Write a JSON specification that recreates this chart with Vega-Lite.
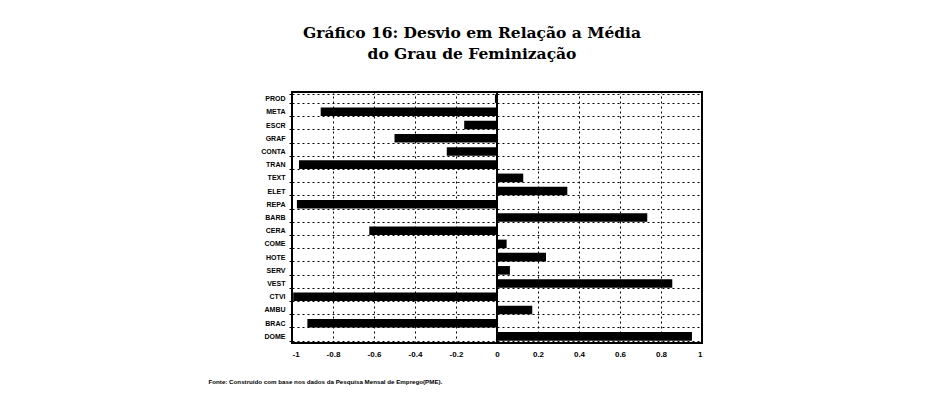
{
  "$schema": "https://vega.github.io/schema/vega-lite/v6.json",
  "width": 410,
  "height": 251,
  "autosize": {"type": "none"},
  "padding": {"left": 292, "top": 92, "right": 228, "bottom": 71},
  "background": "white",
  "title": {
    "text": ["Gráfico 16: Desvio em Relação a Média", "do Grau de Feminização"],
    "font": "DejaVu Serif",
    "fontSize": 15.5,
    "fontWeight": "bold",
    "color": "black",
    "anchor": "middle",
    "lineHeight": 21,
    "offset": 26,
    "dx": -25
  },
  "config": {
    "view": {"stroke": "black", "strokeWidth": 2},
    "axis": {
      "labelFont": "Liberation Sans",
      "labelFontWeight": "bold",
      "labelColor": "black",
      "gridColor": "black",
      "gridDash": [2, 3],
      "gridOpacity": 1,
      "gridWidth": 1,
      "domain": false
    }
  },
  "data": {
    "values": [
      {"setor": "PROD", "desvio": -0.01},
      {"setor": "META", "desvio": -0.86},
      {"setor": "ESCR", "desvio": -0.16},
      {"setor": "GRAF", "desvio": -0.50},
      {"setor": "CONTA", "desvio": -0.245},
      {"setor": "TRAN", "desvio": -0.966},
      {"setor": "TEXT", "desvio": 0.128},
      {"setor": "ELET", "desvio": 0.343},
      {"setor": "REPA", "desvio": -0.976},
      {"setor": "BARB", "desvio": 0.733},
      {"setor": "CERA", "desvio": -0.623},
      {"setor": "COME", "desvio": 0.047},
      {"setor": "HOTE", "desvio": 0.239},
      {"setor": "SERV", "desvio": 0.063},
      {"setor": "VEST", "desvio": 0.855},
      {"setor": "CTVI", "desvio": -0.994},
      {"setor": "AMBU", "desvio": 0.172},
      {"setor": "BRAC", "desvio": -0.925},
      {"setor": "DOME", "desvio": 0.951}
    ]
  },
  "layer": [
    {
      "mark": {"type": "bar", "color": "black"},
      "encoding": {
        "y": {
          "field": "setor",
          "type": "nominal",
          "sort": null,
          "scale": {"paddingInner": 0.35, "paddingOuter": 0.175},
          "axis": {
            "title": null,
            "labelFontSize": 7,
            "labelPadding": 4,
            "grid": true,
            "tickBand": "extent",
            "ticks": true,
            "tickSize": 3,
            "tickColor": "black"
          }
        },
        "x": {
          "field": "desvio",
          "type": "quantitative",
          "scale": {"domain": [-1, 1], "nice": false},
          "axis": {
            "values": [-1, -0.8, -0.6, -0.4, -0.2, 0, 0.2, 0.4, 0.6, 0.8, 1],
            "labelExpr": "'' + datum.value",
            "labelFontSize": 8,
            "labelPadding": 7,
            "ticks": false,
            "grid": true,
            "title": "Fonte: Construído com base nos dados da Pesquisa Mensal de Emprego(PME).",
            "titleFont": "Liberation Sans",
            "titleFontSize": 6.2,
            "titleFontWeight": "bold",
            "titleColor": "black",
            "titleAnchor": "start",
            "titleAlign": "left",
            "titleBaseline": "middle",
            "titleX": -84,
            "titleY": 38
          }
        }
      }
    },
    {
      "mark": {"type": "rule", "color": "black", "strokeWidth": 2},
      "encoding": {"x": {"datum": 0}}
    }
  ]
}
